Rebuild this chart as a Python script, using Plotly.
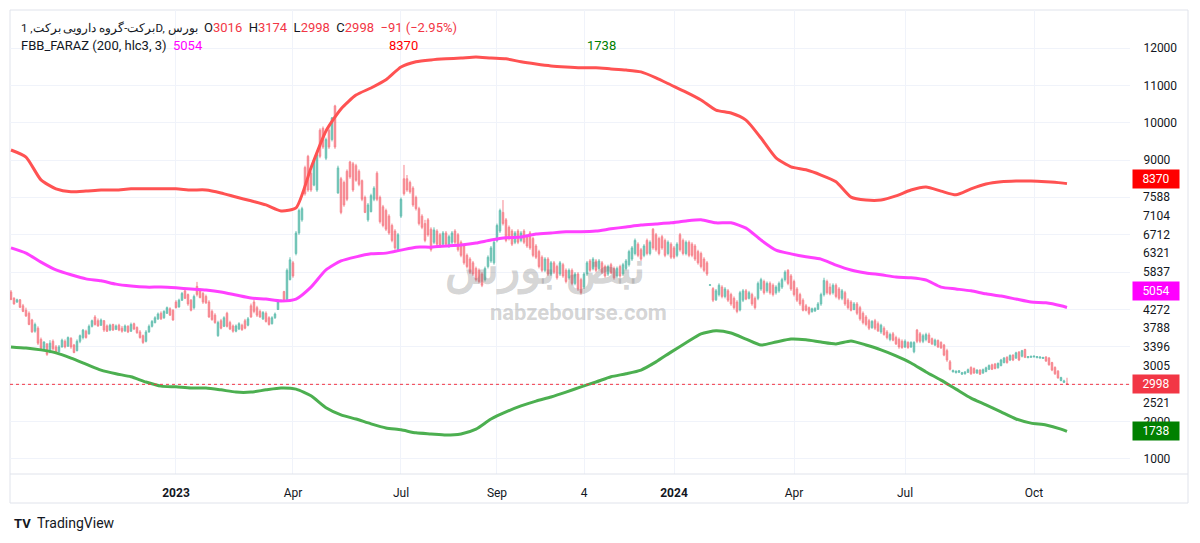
import plotly.graph_objects as go

# daily bars, one per trading session (x = bar index)
opens = [
    5470, 5300, 5200, 5260, 5100, 4980, 4900, 4720, 4420, 4500,
    4200, 3950, 4080, 3850, 4150, 4000, 3870, 4000, 4150, 4020,
    4230, 4050, 3900, 4150, 4250, 4420, 4350, 4550, 4800, 4700,
    4580, 4700, 4560, 4450, 4600, 4470, 4580, 4500, 4430, 4550,
    4420, 4620, 4520, 4400, 4300, 4150, 4400, 4550, 4650, 4750,
    4900, 4780, 4900, 5020, 4980, 5200, 5070, 5250, 5500, 5400,
    5250, 5050, 5620, 5520, 5430, 5350, 5200, 4950, 4850, 4300,
    4700, 4550, 4900, 4650, 4560, 4420, 4480, 4580, 4700, 4580,
    5100, 5200, 5050, 4950, 4750, 4900, 4780, 4620, 4780, 5000,
    5220, 5480, 5240, 5800, 6250, 6500, 7050, 7400, 8800, 9100,
    8650, 8330, 8200, 9800, 9850, 9050, 9800, 9550, 10450, 8120,
    8500, 8400, 8700, 8950, 8900, 8850, 8700, 8450, 8000, 7400,
    7620, 7950, 8650, 8000, 7750, 7650, 7500, 7250, 7100, 6600,
    7500, 8500, 8500, 8400, 8250, 8000, 7700, 7500, 7300, 7400,
    7150, 6800, 7100, 7000, 6750, 7050, 6700, 6800, 7100, 7000,
    6800, 6700, 6450, 6350, 6250, 6100, 6050, 5950, 5800, 6150,
    6300, 6250, 6850, 7100, 7600, 7400, 7200, 7100, 6800, 7100,
    6850, 7100, 6950, 7050, 6900, 6700, 6550, 6400, 6050, 6350,
    5950, 6250, 6150, 5950, 6200, 6050, 5850, 6050, 5700, 5950,
    5800, 5600, 5950, 6300, 6100, 6300, 6100, 6250, 6150, 5950,
    6200, 6100, 5900, 6150, 5950, 6100, 6200, 6350, 6500, 6750,
    6600, 6450, 6850, 6500, 7150, 7000, 6900, 6950, 6850, 6500,
    6750, 6650, 6450, 7000, 6850, 6500, 6800, 6750, 6700, 6550,
    6500, 6350, 6250, 5650, 5560, 5260, 5400, 5600, 5350, 5500,
    5400, 5300, 5200, 4990, 5250, 5500, 5300, 5400, 5300, 5300,
    5550, 5750, 5500, 5700, 5650, 5450, 5500, 5600, 5800, 6050,
    5900, 5750, 5550, 5400, 5250, 5100, 5050, 4940, 4960, 5010,
    5150, 5400, 5750, 5600, 5450, 5650, 5550, 5300, 5450, 5250,
    5200, 5000, 5150, 5050, 4900, 4800, 4700, 4520, 4700, 4620,
    4400, 4500, 4400, 4200, 4350, 4250, 4200, 4150, 4000, 4120,
    4000, 3870, 4450, 4350, 4150, 4200, 4320, 4220, 4050, 4170,
    4120, 4050, 3900, 3600, 3330, 3310, 3320, 3270, 3280, 3320,
    3450, 3420, 3300, 3380, 3300, 3340, 3400, 3520, 3540, 3440,
    3500, 3580, 3720, 3650, 3780, 3700, 3860, 3750, 3930, 3710,
    3720, 3730, 3710, 3700, 3690, 3730, 3700, 3580, 3450, 3350,
    3100, 3050, 3016,
]
highs = [
    5520, 5330, 5290, 5280, 5150, 5050, 4950, 4750, 4650, 4550,
    4250, 4150, 4100, 4180, 4200, 4050, 4050, 4220, 4200, 4280,
    4260, 4080, 4200, 4330, 4480, 4460, 4600, 4730, 4850, 4760,
    4760, 4720, 4600, 4620, 4620, 4600, 4620, 4560, 4600, 4580,
    4650, 4650, 4550, 4450, 4330, 4450, 4600, 4720, 4820, 4920,
    4950, 4980, 5080, 5060, 5010, 5250, 5290, 5470, 5550, 5430,
    5280, 5400, 5740, 5560, 5470, 5400, 5250, 5000, 4900, 4700,
    4750, 4820, 4940, 4700, 4600, 4600, 4660, 4620, 4750, 4800,
    5160, 5260, 5100, 5000, 4960, 4950, 4820, 4820, 4920, 5230,
    5260, 5500, 6100, 6400, 6300, 7100, 7700, 7750, 8850, 9140,
    8700, 9050, 9200, 9850, 9900, 9600, 9850, 10150, 10480, 8850,
    8550, 8450, 8750, 8980, 8950, 8900, 8750, 8480, 8050, 7850,
    8100, 8300, 8700, 8050, 7800, 7700, 7550, 7300, 7150, 7050,
    8000, 8870, 8600, 8450, 8300, 8050, 7750, 7550, 7400, 7450,
    7200, 7200, 7150, 7050, 7100, 7100, 7000, 7100, 7150, 7050,
    6850, 6750, 6500, 6400, 6300, 6150, 6100, 6000, 6150, 6450,
    6700, 6850, 7300, 7700, 7930, 7450, 7250, 7150, 7100, 7150,
    7100, 7150, 7000, 7100, 6950, 6750, 6600, 6450, 6400, 6400,
    6300, 6300, 6200, 6300, 6250, 6100, 6100, 6100, 6000, 6000,
    5850, 6000, 6300, 6350, 6400, 6350, 6350, 6300, 6200, 6200,
    6250, 6150, 6150, 6200, 6250, 6350, 6600, 6700, 6900, 6800,
    6650, 6750, 6900, 6850, 7180, 7050, 6950, 7000, 6900, 6850,
    6800, 6700, 6800, 7050, 6900, 6850, 6850, 6800, 6750, 6600,
    6550, 6400, 6300, 5670, 5600, 5550, 5700, 5650, 5600, 5550,
    5450, 5350, 5250, 5500, 5550, 5550, 5500, 5450, 5350, 5750,
    5850, 5800, 5750, 5750, 5700, 5650, 5750, 5850, 6050, 6080,
    5950, 5800, 5600, 5450, 5300, 5150, 5080, 5050, 5060, 5200,
    5450, 5850, 5800, 5700, 5700, 5700, 5600, 5550, 5500, 5300,
    5250, 5200, 5200, 5100, 4950, 4850, 4750, 4720, 4750, 4680,
    4620, 4550, 4450, 4380, 4400, 4300, 4250, 4200, 4200, 4150,
    4150, 4150, 4480, 4400, 4350, 4380, 4380, 4250, 4220, 4200,
    4150, 4080, 3950, 3650, 3390, 3370, 3380, 3330, 3350, 3420,
    3480, 3450, 3400, 3400, 3420, 3470, 3530, 3550, 3570, 3580,
    3680, 3730, 3750, 3800, 3800, 3870, 3890, 3920, 3950, 3750,
    3760, 3770, 3750, 3740, 3730, 3750, 3730, 3600, 3480, 3380,
    3200, 3120, 3174,
]
lows = [
    5250, 5130, 5180, 5040, 4930, 4800, 4580, 4380, 4380, 4050,
    3900, 3900, 3760, 3830, 3900, 3830, 3850, 3980, 3960, 4000,
    3950, 3830, 3880, 4100, 4200, 4220, 4330, 4520, 4570, 4540,
    4560, 4400, 4400, 4420, 4430, 4450, 4420, 4380, 4400, 4370,
    4400, 4450, 4350, 4220, 4080, 4120, 4380, 4520, 4630, 4720,
    4720, 4750, 4880, 4830, 4700, 5030, 5050, 5230, 5280, 5100,
    4950, 5000, 5350, 5300, 5150, 5150, 4780, 4700, 4620, 4270,
    4470, 4530, 4520, 4450, 4380, 4390, 4450, 4430, 4470, 4550,
    4780, 4900, 4800, 4780, 4720, 4650, 4570, 4600, 4750, 4990,
    5220, 5200, 5230, 5780, 5850, 6450, 7000, 7350, 8050, 8150,
    8150, 8300, 8150, 9050, 9300, 9000, 9300, 9500, 9300, 8100,
    7550, 7750, 7900, 8500, 8150, 8420, 8300, 7900, 7580, 7350,
    7600, 7900, 7900, 7300, 7200, 7100, 7000, 6800, 6600, 6550,
    7450, 8050, 8150, 8100, 7750, 7650, 7250, 7150, 6800, 6950,
    6550, 6750, 6700, 6650, 6700, 6700, 6650, 6750, 6750, 6550,
    6400, 6200, 6100, 5950, 5900, 5750, 5700, 5600, 5750, 6100,
    6250, 6200, 6800, 7050, 7250, 6800, 6850, 6700, 6750, 6750,
    6800, 6750, 6650, 6600, 6400, 6350, 6100, 6000, 6000, 5900,
    5900, 5950, 5800, 5900, 5850, 5700, 5800, 5650, 5650, 5500,
    5400, 5550, 5900, 6000, 6050, 6000, 6050, 5950, 5850, 5900,
    5950, 5800, 5850, 5850, 5900, 6050, 6150, 6300, 6450, 6400,
    6300, 6400, 6450, 6450, 6600, 6550, 6450, 6600, 6400, 6450,
    6350, 6350, 6400, 6550, 6450, 6450, 6400, 6400, 6300, 6200,
    6100, 6000, 5900, 5640, 5200, 5230, 5350, 5300, 5300, 5200,
    5100, 5000, 4900, 4950, 5200, 5250, 5270, 5100, 5000, 5250,
    5500, 5400, 5450, 5400, 5350, 5400, 5450, 5550, 5750, 5650,
    5500, 5350, 5200, 5100, 4950, 4950, 4850, 4920, 4940, 4990,
    5100, 5350, 5400, 5380, 5400, 5300, 5250, 5250, 5100, 5000,
    4950, 4980, 4850, 4700, 4600, 4550, 4450, 4480, 4450, 4400,
    4350, 4300, 4200, 4150, 4150, 4050, 3950, 3950, 3970, 3950,
    3970, 3830, 4100, 4100, 4100, 4150, 4100, 4050, 4020, 3970,
    3950, 3750, 3600, 3370, 3320, 3290, 3300, 3250, 3260, 3300,
    3250, 3280, 3280, 3250, 3280, 3320, 3380, 3380, 3400, 3420,
    3480, 3560, 3550, 3620, 3620, 3680, 3620, 3720, 3700, 3700,
    3710, 3720, 3700, 3690, 3680, 3600, 3500, 3350, 3250, 3150,
    3080, 3040, 2998,
]
closes = [
    5270, 5150, 5260, 5060, 4950, 4830, 4600, 4400, 4600, 4100,
    3950, 4130, 3800, 4100, 3950, 3850, 4000, 4180, 4000, 4250,
    4000, 3850, 4150, 4300, 4450, 4250, 4550, 4700, 4600, 4560,
    4720, 4450, 4420, 4580, 4450, 4560, 4450, 4420, 4560, 4400,
    4600, 4480, 4380, 4250, 4120, 4400, 4550, 4680, 4780, 4880,
    4750, 4950, 5050, 4850, 4720, 5050, 5250, 5430, 5300, 5150,
    4980, 5350, 5400, 5320, 5200, 5180, 4800, 4730, 4650, 4650,
    4500, 4780, 4550, 4480, 4420, 4560, 4620, 4460, 4500, 4750,
    4800, 4950, 4850, 4800, 4920, 4680, 4600, 4780, 4880, 5200,
    5250, 5230, 6050, 6330, 5900, 7050, 7650, 7700, 8100, 8200,
    8200, 9000, 9150, 9100, 9350, 9550, 9350, 10130, 9350, 8790,
    7600, 7800, 7950, 8550, 8200, 8460, 8350, 7950, 7600, 7800,
    8050, 8250, 7950, 7350, 7250, 7150, 7050, 6850, 6650, 7000,
    7950, 8100, 8200, 8150, 7800, 7700, 7300, 7200, 6850, 7000,
    6600, 7130, 6750, 6700, 7050, 6750, 6950, 7050, 6800, 6600,
    6450, 6250, 6150, 6000, 5950, 5800, 5750, 5650, 6100, 6400,
    6650, 6800, 7250, 7650, 7300, 6850, 6900, 6750, 7050, 6800,
    7050, 6800, 6700, 6650, 6450, 6400, 6150, 6050, 6350, 5950,
    6250, 6000, 5850, 6250, 5900, 5750, 6050, 5700, 5950, 5550,
    5450, 5950, 6250, 6050, 6350, 6050, 6300, 6000, 5900, 6150,
    5980, 5850, 6100, 5900, 6200, 6300, 6550, 6650, 6850, 6450,
    6350, 6700, 6500, 6800, 6650, 6600, 6500, 6650, 6450, 6800,
    6400, 6400, 6750, 6600, 6500, 6800, 6450, 6450, 6350, 6250,
    6150, 6050, 5950, 5660, 5250, 5500, 5650, 5350, 5550, 5250,
    5150, 5050, 4950, 5450, 5500, 5280, 5450, 5150, 5050, 5700,
    5800, 5450, 5700, 5450, 5400, 5600, 5700, 5800, 6000, 5700,
    5550, 5400, 5250, 5150, 4980, 4980, 4900, 5020, 5030, 5150,
    5400, 5780, 5450, 5420, 5650, 5350, 5300, 5500, 5150, 5050,
    4980, 5150, 4900, 4750, 4650, 4600, 4500, 4680, 4500, 4430,
    4580, 4330, 4250, 4330, 4180, 4080, 4000, 3980, 4150, 3980,
    4120, 4120, 4150, 4150, 4300, 4330, 4120, 4080, 4180, 4000,
    3970, 3780, 3650, 3400, 3370, 3350, 3360, 3310, 3330, 3390,
    3280, 3300, 3380, 3270, 3390, 3440, 3500, 3400, 3420, 3560,
    3650, 3700, 3580, 3770, 3650, 3840, 3650, 3900, 3720, 3740,
    3750, 3750, 3740, 3730, 3720, 3620, 3520, 3380, 3280, 3170,
    3180, 3089, 2998,
]
assert len(opens) == len(highs) == len(lows) == len(closes)

# FBB_FARAZ (200, hlc3, 3) bands, read every 5th bar plus the last bar
band_idx = list(range(0, 351, 5)) + [352]
upper_band = [
    9270, 9080, 8470, 8230, 8150, 8170, 8200, 8200, 8230, 8230,
    8230, 8230, 8200, 8200, 8120, 8010, 7910, 7800, 7640, 7720,
    8790, 9780, 10370, 10740, 10930, 11150, 11490, 11630, 11680, 11710,
    11730, 11760, 11730, 11710, 11630, 11570, 11520, 11490, 11470, 11470,
    11440, 11410, 11360, 11200, 11010, 10820, 10610, 10340, 10260, 10070,
    9590, 9060, 8820, 8740, 8600, 8420, 8010, 7930, 7930, 8040,
    8200, 8280, 8170, 8070, 8230, 8360, 8420, 8440, 8440, 8420,
    8390, 8370,
]
mid_band = [
    6650, 6510, 6270, 6060, 5930, 5820, 5770, 5680, 5630, 5600,
    5600, 5580, 5550, 5520, 5470, 5390, 5310, 5280, 5230, 5280,
    5600, 6060, 6300, 6410, 6490, 6510, 6590, 6670, 6670, 6700,
    6730, 6780, 6860, 6920, 6940, 7020, 7050, 7080, 7080, 7100,
    7160, 7210, 7260, 7290, 7320, 7370, 7400, 7320, 7320, 7180,
    6860, 6590, 6490, 6410, 6350, 6190, 6060, 5980, 5930, 5870,
    5850, 5790, 5600, 5550, 5500, 5420, 5360, 5280, 5200, 5180,
    5100, 5054,
]
lower_band = [
    4000, 3970, 3920, 3840, 3700, 3540, 3380, 3280, 3200, 3060,
    2950, 2930, 2900, 2900, 2850, 2790, 2790, 2850, 2900, 2870,
    2690, 2370, 2180, 2070, 1940, 1830, 1780, 1700, 1670, 1640,
    1670, 1800, 2070, 2260, 2420, 2550, 2660, 2790, 2930, 3060,
    3200, 3280, 3380, 3600, 3860, 4110, 4350, 4430, 4370, 4210,
    4050, 4130, 4210, 4190, 4130, 4080, 4160, 4050, 3920, 3760,
    3570, 3330, 3110, 2870, 2630, 2450, 2260, 2070, 1960, 1910,
    1800, 1738,
]
assert len(band_idx) == len(upper_band) == len(mid_band) == len(lower_band)

# fibonacci price levels shown on the price scale
fib_levels = [7588, 7104, 6712, 6321, 5837, 4272, 3788, 3396, 3005, 2521]

month_idx = [55, 94, 130, 162, 191, 221, 261, 298, 341]
month_labels = ["2023", "Apr", "Jul", "Sep", "4", "2024", "Apr", "Jul", "Oct"]

grid_prices = list(range(1000, 13000, 1000))
shown_prices = [1000, 2000, 9000, 10000, 11000, 12000]

symbol = "برکت-گروه دارویی برکت, 1D, بورس"
indicator = "FBB_FARAZ (200, hlc3, 3)"

# ---- styling ----
# the page body has an 8px margin, so the figure starts at (8, 8) in the window
W, H = 1200, 543
OFF = 8
PLOT_L, PLOT_R, PLOT_T, PLOT_B = 10, 1130, 10, 474      # window pixels
ML, MT = PLOT_L - OFF, PLOT_T - OFF
MR, MB = W + OFF - PLOT_R, H + OFF - PLOT_B
PW, PH = PLOT_R - PLOT_L, PLOT_B - PLOT_T
Y_RANGE = [598, 13017]
X_RANGE = [-0.33, 373]

FONT = "Roboto, 'Open Sans', sans-serif"
TXT = "#131722"
GRID = "#f0f3fa"
BORDER = "#e0e3eb"
UP, DOWN = "#089981", "#f23645"
RED, MAGENTA, GREEN = "#ff5252", "#ff40ff", "#4caf50"


def px(x):
    return (x - PLOT_L) / PW


def py(y):
    return (PLOT_B - y) / PH


def spread(values, anchor, gap):
    # push price-scale labels apart, the last-price label stays put
    pos = {anchor: anchor}
    prev = anchor
    for v in sorted(v for v in values if v > anchor):
        prev = max(v, prev + gap)
        pos[v] = prev
    prev = anchor
    for v in sorted((v for v in values if v < anchor), reverse=True):
        prev = min(v, prev - gap)
        pos[v] = prev
    return pos


fig = go.Figure()

fig.add_trace(go.Candlestick(
    x=list(range(len(closes))), open=opens, high=highs, low=lows, close=closes,
    increasing=dict(line=dict(color=UP, width=1), fillcolor=UP),
    decreasing=dict(line=dict(color=DOWN, width=1), fillcolor=DOWN),
    whiskerwidth=0, opacity=0.6, hoverinfo="skip", showlegend=False,
))

for vals, col in [(upper_band, RED), (mid_band, MAGENTA), (lower_band, GREEN)]:
    fig.add_trace(go.Scatter(
        x=band_idx, y=vals, mode="lines",
        line=dict(color=col, width=3, shape="spline", smoothing=0.6),
        hoverinfo="skip", showlegend=False,
    ))

last = closes[-1]
fig.add_hline(y=last, line=dict(color=DOWN, width=1, dash="dot"))

fig.update_layout(
    width=W, height=H,
    margin=dict(l=ML, r=MR, t=MT, b=MB),
    paper_bgcolor="white", plot_bgcolor="white",
    font=dict(family=FONT, size=12, color=TXT),
    xaxis=dict(
        range=X_RANGE, rangeslider=dict(visible=False),
        tickvals=month_idx,
        ticktext=[f"<b>{t}</b>" if t.isdigit() and len(t) == 4 else t for t in month_labels],
        showgrid=True, gridcolor=GRID, gridwidth=1, zeroline=False,
        showline=False, ticks="outside", ticklen=8, tickcolor="rgba(0,0,0,0)",
    ),
    yaxis=dict(
        range=Y_RANGE, side="right",
        tickvals=grid_prices,
        ticktext=[str(p) if p in shown_prices else "" for p in grid_prices],
        showgrid=True, gridcolor=GRID, gridwidth=1, zeroline=False,
        showline=False, ticks="outside", ticklen=10, tickcolor="rgba(0,0,0,0)",
    ),
)

# pane borders
fig.add_shape(type="rect", xref="paper", yref="paper",
              x0=0, x1=px(1188), y0=py(503), y1=1,
              line=dict(color=BORDER, width=1), layer="below")
fig.add_shape(type="line", xref="paper", yref="paper",
              x0=0, x1=px(1188), y0=0, y1=0,
              line=dict(color=BORDER, width=1))

# price-scale labels
gap = 18.7 * (Y_RANGE[1] - Y_RANGE[0]) / PH
boxes = {upper_band[-1]: "#ff0000", mid_band[-1]: "#ff00ff",
         lower_band[-1]: "#008000", last: DOWN}
pos = spread(fib_levels + list(boxes), last, gap)
for v, y in pos.items():
    if v in boxes:
        fig.add_annotation(xref="paper", yref="y", x=px(1132), y=y,
                           xanchor="left", yanchor="middle", text=str(v),
                           showarrow=False, bgcolor=boxes[v], width=42, height=14,
                           borderpad=2, font=dict(color="white", size=12))
    else:
        fig.add_annotation(xref="paper", yref="y", x=px(1141), y=y,
                           xanchor="left", yanchor="middle", text=str(v),
                           showarrow=False, font=dict(color=TXT, size=12))

# legend rows
o, h, l, c = opens[-1], highs[-1], lows[-1], closes[-1]
chg = c - closes[-2]
pct = chg / closes[-2] * 100
sp = "\u00a0"


def red(s):
    return f"<span style='color:{DOWN}'>{s}</span>"


row1 = (f"<span style='font-size:11.5px'>{symbol}</span>{sp}{sp}"
        f"O{red(o)}{sp}{sp}H{red(h)}{sp}{sp}L{red(l)}{sp}{sp}C{red(c)}"
        f"{sp}{sp}{red(f'{chg:+d} ({pct:+.2f}%)'.replace('-', '−'))}")
fig.add_annotation(xref="paper", yref="paper", x=px(19), y=py(27), xanchor="left",
                   yanchor="middle", text=row1, showarrow=False, font=dict(size=13))
fig.add_annotation(xref="paper", yref="paper", x=px(19), y=py(46), xanchor="left",
                   yanchor="middle", showarrow=False, font=dict(size=13),
                   text=f"{indicator}{sp}{sp}<span style='color:#ff00ff'>{mid_band[-1]}</span>")
fig.add_annotation(xref="paper", yref="paper", x=px(387), y=py(46), xanchor="left",
                   yanchor="middle", showarrow=False, text=str(upper_band[-1]),
                   font=dict(size=13, color="#ff0000"))
fig.add_annotation(xref="paper", yref="paper", x=px(585), y=py(46), xanchor="left",
                   yanchor="middle", showarrow=False, text=str(lower_band[-1]),
                   font=dict(size=13, color="#008000"))

# watermark
fig.add_annotation(xref="paper", yref="paper", x=px(545), y=py(268), showarrow=False,
                   xanchor="center", yanchor="middle",
                   text="<b>نبض بورس</b>", font=dict(size=44, color="rgba(110,110,110,0.3)"))
fig.add_annotation(xref="paper", yref="paper", x=px(578), y=py(312), showarrow=False,
                   xanchor="center", yanchor="middle",
                   text="<b>nabzebourse.com</b>", font=dict(size=22, color="rgba(110,110,110,0.3)"))

# TradingView footer
fig.add_annotation(xref="paper", yref="paper", x=px(12), y=py(523), xanchor="left",
                   yanchor="middle", showarrow=False, text="<b>TV</b>",
                   font=dict(size=13, color=TXT))
fig.add_annotation(xref="paper", yref="paper", x=px(35), y=py(523), xanchor="left",
                   yanchor="middle", showarrow=False, text="TradingView",
                   font=dict(size=14, color=TXT))

fig.write_html("out.html")
